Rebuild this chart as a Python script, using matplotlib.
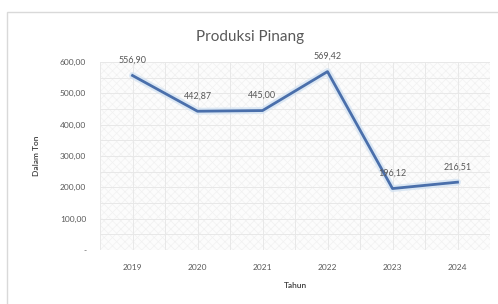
import matplotlib.pyplot as plt
from matplotlib.patches import Rectangle

# data
tahun = ["2019", "2020", "2021", "2022", "2023", "2024"]
produksi = [556.90, 442.87, 445.00, 569.42, 196.12, 216.51]
label_produksi = ["556,90", "442,87", "445,00", "569,42", "196,12", "216,51"]
y_ticks = [0, 100, 200, 300, 400, 500, 600]
y_labels = ["-", "100,00", "200,00", "300,00", "400,00", "500,00", "600,00"]

plt.rcParams['font.family'] = ['Lato', 'DejaVu Sans']
plt.rcParams['hatch.linewidth'] = 0.5

fig = plt.figure(figsize=(4.98, 3.04), dpi=100)
fig.patch.set_facecolor("white")

# chart border (top/left visible, rest runs off the image)
fig.patches.append(Rectangle((7 / 498, -0.05), 600 / 498, 1 - 12 / 304 + 0.05, transform=fig.transFigure,
                             fill=False, edgecolor="#d9d9d9", linewidth=1.0))

ax = fig.add_axes([100 / 498, 54 / 304, 390 / 498, 188 / 304])
x = list(range(len(tahun)))

# textured background
ax.add_patch(Rectangle((-0.5, 0), 6, 600, facecolor="#fcfcfc", edgecolor="#f1f1f1",
                       hatch="xxxx", linewidth=0, zorder=0))
for xv in [i * 0.5 - 0.5 for i in range(13)]:
    ax.axvline(xv, color="#e8e8e8", linewidth=0.7, zorder=1)
for yv in range(0, 601, 50):
    ax.axhline(yv, color="#e8e8e8", linewidth=0.7, zorder=1)

# glow + line
ax.plot(x, produksi, color="#cfe0f2", linewidth=5, alpha=0.7, zorder=2, solid_capstyle="round")
ax.plot(x, produksi, color="#4a6fab", linewidth=2.0, zorder=3)

for xi, yi, lab in zip(x, produksi, label_produksi):
    ax.annotate(lab, (xi, yi), xytext=(0, 11), textcoords="offset points",
                ha="center", va="center", fontsize=6.5, color="#595959", zorder=4)

ax.set_xlim(-0.5, 5.5)
ax.set_ylim(0, 600)
ax.set_xticks(x)
ax.set_xticklabels(tahun, fontsize=6, color="#595959")
ax.set_yticks(y_ticks)
ax.set_yticklabels(y_labels, fontsize=6, color="#595959")
ax.tick_params(length=0, pad=10)
for s in ax.spines.values():
    s.set_visible(False)

ax.set_xlabel("Tahun", fontsize=6, color="#404040", labelpad=8, fontweight="semibold")
ax.set_ylabel("Dalam Ton", fontsize=6, color="#404040", labelpad=14, fontweight="semibold")

fig.text(250 / 498, 1 - 37 / 304, "Produksi Pinang", ha="center", va="center",
         fontsize=11, color="#595959")

plt.savefig("out.png", dpi=100)
